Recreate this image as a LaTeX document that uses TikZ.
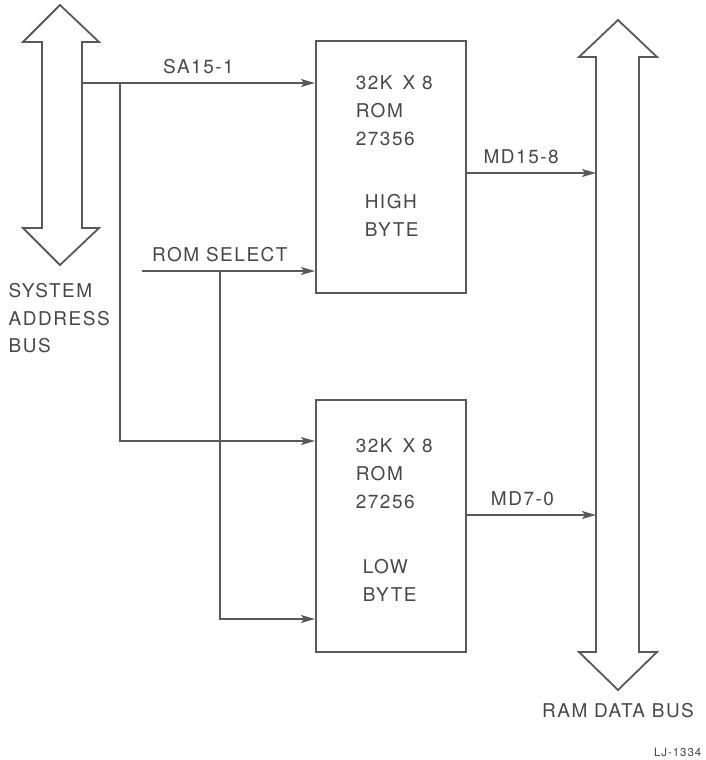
\documentclass[tikz,border=0pt]{standalone}
\usepackage{fontspec}
\setmainfont[LetterSpace=8]{TeX Gyre Heros}
\usetikzlibrary{arrows.meta,positioning}

\begin{document}
\begin{tikzpicture}[x=1pt,y=-1pt,>={Stealth[length=14pt,width=8pt,inset=3pt]},
        color=black!65, line width=1.5pt,
        rom/.style={draw,line width=2pt,minimum width=150pt,minimum height=252pt,inner sep=0pt},
        txt/.style={text=black!72,font=\fontsize{19}{28}\selectfont,inner sep=0pt,align=left},
        lbl/.style={txt,above=8pt},
        bus/.style={draw,line width=1.8pt,line join=miter}]
        \useasboundingbox (0,0) rectangle (705,760);
        \node[rom] (hi) at (391,167) {};
        \node[rom] (lo) at (391,526) {};
        \node[txt,anchor=north west] (hi-t) at (355,75) {32K\hspace{10pt}X 8\\ROM\\27356};
        \node[txt,anchor=north west] (hi-b) at (364,194) {HIGH\\BYTE};
        \node[txt,anchor=north west] (lo-t) at (355,438) {32K\hspace{10pt}X 8\\ROM\\27256};
        \node[txt,anchor=north west] (lo-b) at (362,559) {LOW\\BYTE};
        \draw[bus] (60,5) -- (99,42) -- (82,42) -- (82,228) -- (99,228) -- (60,265)
            -- (23,228) -- (42,228) -- (42,42) -- (23,42) -- cycle;
        \draw[bus] (618,20) -- (657,57) -- (639,57) -- (639,652) -- (657,652) -- (618,690)
            -- (579,652) -- (596,652) -- (596,57) -- (579,57) -- cycle;
        \node[txt,font=\fontsize{19}{27.5}\selectfont,anchor=north west] (abus) at (8,283) {SYSTEM\\ADDRESS\\BUS};
        \node[txt,anchor=north] (dbus) at (618,703) {RAM DATA BUS};
        \node[txt,font=\fontsize{11.5}{13}\selectfont,anchor=north east] (ref) at (702,747) {LJ-1334};
        \coordinate (sa) at (82,83);
        \coordinate (sa-tap) at (120,83);
        \coordinate (rs) at (142,271);
        \coordinate (rs-tap) at (220,271);
        \coordinate (lo-sa) at ([yshift=-42pt]lo.north west);
        \coordinate (lo-rs) at ([yshift=-220pt]lo.north west);
        \coordinate (md-hi) at (596,173);
        \coordinate (md-lo) at (596,515);
        \draw[->] (sa) -- node[lbl]{SA15-1} (sa -| hi.west);
        \draw[->] (sa-tap) |- (lo-sa);
        \draw[->] (rs) -- node[lbl,pos=.45]{ROM SELECT} (rs -| hi.west);
        \draw[->] (rs-tap) |- (lo-rs);
        \draw[->] (md-hi -| hi.east) -- node[lbl,pos=.42]{MD15-8} (md-hi);
        \draw[->] (md-lo -| lo.east) -- node[lbl,pos=.43]{MD7-0} (md-lo);
    \end{tikzpicture}
\end{document}
